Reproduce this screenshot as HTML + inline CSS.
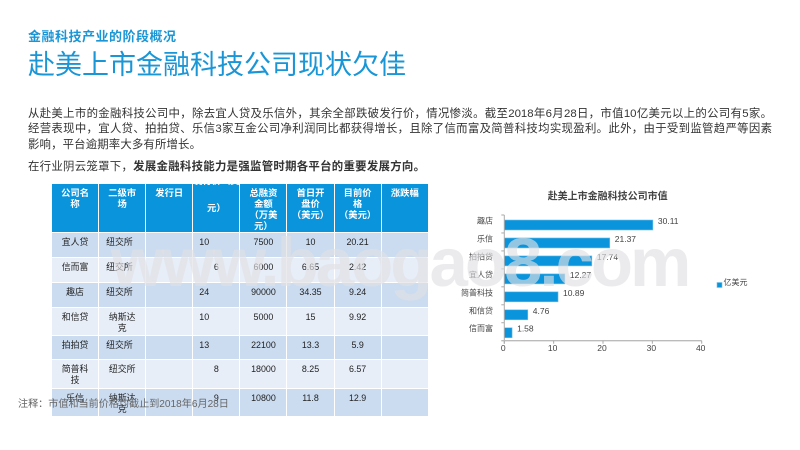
<!DOCTYPE html>
<html lang="zh-CN">
<head>
<meta charset="utf-8">
<title>赴美上市金融科技公司现状欠佳</title>
<style>
html,body{margin:0;padding:0;background:#fff;}
#page{position:relative;width:800px;height:450px;overflow:hidden;background:#fff;font-family:"Liberation Sans","Noto Sans CJK SC",sans-serif;}
.line{position:absolute;white-space:nowrap;color:#333;}
.just{text-align:justify;text-align-last:justify;white-space:normal;}
#deck-table{position:absolute;left:51px;top:183px;width:377px;border-collapse:collapse;table-layout:fixed;font-size:8.9px;line-height:11px;color:#222;}
#deck-table td,#deck-table th{border:1px solid #fff;padding:4px 2px 0;vertical-align:top;text-align:center;box-sizing:border-box;overflow:visible;font-weight:normal;}
#deck-table th{background:#0a94dc;color:#fff;font-weight:bold;font-size:9.3px;padding-top:3.5px;position:relative;}
#deck-table tr.odd td{background:#cbdcf1;}
#deck-table tr.even td{background:#e7eef8;}
#deck-table td.l{text-align:left;padding-left:7px;}
#deck-table td.p{text-align:left;padding-left:6px;}
#watermark{position:absolute;left:111px;top:223.6px;line-height:78px;font-size:69px;font-weight:bold;letter-spacing:-3px;color:rgba(225,225,228,.65);white-space:nowrap;z-index:5;font-family:"Liberation Sans",sans-serif;}
#chart{position:absolute;left:0;top:0;z-index:2;}
#chart text{font-family:"Liberation Sans","Noto Sans CJK SC",sans-serif;}
</style>
</head>
<body>
<div id="page">
  <div class="line" style="left:28px;top:29px;line-height:16px;font-size:13px;font-weight:bold;color:#1a96d6;letter-spacing:.5px;">金融科技产业的阶段概况</div>
  <div class="line" style="left:28px;top:47px;line-height:36px;font-size:27px;color:#1a96d6;">赴美上市金融科技公司现状欠佳</div>

  <div class="line just" style="left:28px;top:106px;width:744px;line-height:16px;font-size:11.4px;">从赴美上市的金融科技公司中，除去宜人贷及乐信外，其余全部跌破发行价，情况惨淡。截至2018年6月28日，市值10亿美元以上的公司有5家。</div>
  <div class="line just" style="left:28px;top:121px;width:744px;line-height:16px;font-size:11.4px;">经营表现中，宜人贷、拍拍贷、乐信3家互金公司净利润同比都获得增长，且除了信而富及简普科技均实现盈利。此外，由于受到监管趋严等因素</div>
  <div class="line just" style="left:28px;top:137px;width:173px;line-height:16px;font-size:11.4px;">影响，平台逾期率大多有所增长。</div>
  <div class="line just" style="left:28px;top:159px;width:397px;line-height:16px;font-size:11.4px;">在行业阴云笼罩下，<b>发展金融科技能力是强监管时期各平台的重要发展方向。</b></div>

  <table id="deck-table">
    <colgroup><col style="width:47.1px"><col style="width:47.1px"><col style="width:47.1px"><col style="width:47.1px"><col style="width:47.1px"><col style="width:47.1px"><col style="width:47.1px"><col style="width:47.3px"></colgroup>
    <tr style="height:49px">
      <th>公司名<br>称</th>
      <th>二级市<br>场</th>
      <th>发行日</th>
      <th><span style="position:absolute;left:-2px;right:-2px;top:-9px;line-height:13.5px;">发行价（美<br><br>元）</span></th>
      <th>总融资<br>金额<br>（万美<br>元）</th>
      <th>首日开<br>盘价<br>（美元）</th>
      <th>目前价<br>格<br>（美元）</th>
      <th>涨跌幅</th>
    </tr>
    <tr class="odd" style="height:24.7px">
      <td>宜人贷</td><td class="l">纽交所</td><td></td><td class="p">10</td><td>7500</td><td>10</td><td>20.21</td><td></td>
    </tr>
    <tr class="even" style="height:25.6px">
      <td>信而富</td><td class="l">纽交所</td><td></td><td>6</td><td>6000</td><td>6.65</td><td>2.42</td><td></td>
    </tr>
    <tr class="odd" style="height:24.4px">
      <td>趣店</td><td class="l">纽交所</td><td></td><td class="p">24</td><td>90000</td><td>34.35</td><td>9.24</td><td></td>
    </tr>
    <tr class="even" style="height:28.3px">
      <td>和信贷</td><td>纳斯达<br>克</td><td></td><td class="p">10</td><td>5000</td><td>15</td><td>9.92</td><td></td>
    </tr>
    <tr class="odd" style="height:24.3px">
      <td>拍拍贷</td><td class="l">纽交所</td><td></td><td class="p">13</td><td>22100</td><td>13.3</td><td>5.9</td><td></td>
    </tr>
    <tr class="even" style="height:29px">
      <td>简普科<br>技</td><td>纽交所</td><td></td><td>8</td><td>18000</td><td>8.25</td><td>6.57</td><td></td>
    </tr>
    <tr class="odd" style="height:27.4px">
      <td>乐信</td><td>纳斯达<br>克</td><td></td><td>9</td><td>10800</td><td>11.8</td><td>12.9</td><td></td>
    </tr>
  </table>

  <div class="line" style="left:18px;top:398px;line-height:14px;font-size:10.1px;color:#666;z-index:3;">注释：市值和当前价格均截止到2018年6月28日</div>

  <svg id="chart" width="800" height="450" viewBox="0 0 800 450" xmlns="http://www.w3.org/2000/svg"></svg>

  <div id="watermark">www.baogao8.com</div>
</div>

<script>
const categories = ["趣店", "乐信", "拍拍贷", "宜人贷", "简普科技", "和信贷", "信而富"];
const marketCapValues = [30.11, 21.37, 17.74, 12.27, 10.89, 4.76, 1.58];
const printedValues = ["30.11", "21.37", "17.74", "12.27", "10.89", "4.76", "1.58"];
const xTickLabels = ["0", "10", "20", "30", "40"];
const seriesName = "亿美元";
const chartTitle = "赴美上市金融科技公司市值";

const svgNS = "http://www.w3.org/2000/svg";
const svg = document.getElementById("chart");
const plot = { left: 504.3, right: 701.7, top: 215, bottom: 340.7 };
const xMax = Number(xTickLabels[xTickLabels.length - 1]);
function xScale(v) { return plot.left + (v / xMax) * (plot.right - plot.left); }
const bandHeight = (plot.bottom - plot.top) / categories.length;
function yBand(i) { return plot.top + bandHeight * i; }

function make(tag, attrs, text) {
  const el = document.createElementNS(svgNS, tag);
  for (const k in attrs) el.setAttribute(k, attrs[k]);
  if (text !== undefined) el.textContent = text;
  svg.appendChild(el);
  return el;
}

const titleEl = make("text", { x: 607.7, y: 199.5, "text-anchor": "middle", "font-size": 10, "font-weight": "bold", fill: "#444" }, chartTitle);



categories.forEach(function (name, i) {
  const top = yBand(i);
  const bar = make("rect", { x: xScale(0), y: top + 5, width: xScale(marketCapValues[i]) - xScale(0), height: 10, fill: "#0a94dc", stroke: "#7cc0e6", "stroke-width": 0.6 });
  
  

  const tick = make("line", { x1: plot.left - 3, x2: plot.left, y1: top, y2: top, stroke: "#aaa", "stroke-width": 1 });
  
  

  const cat = make("text", { x: 493, y: top + 8.5, "text-anchor": "end", "font-size": 8, fill: "#444" }, name);
  
  

  const val = make("text", { x: xScale(marketCapValues[i]) + 5, y: top + 9, "font-size": 8.5, fill: "#444" }, printedValues[i]);
  
  
});

const yAxis = make("line", { x1: plot.left, x2: plot.left, y1: plot.top, y2: plot.bottom + 3, stroke: "#aaa", "stroke-width": 1 });



const xAxis = make("line", { x1: plot.left - 3, x2: plot.right, y1: plot.bottom, y2: plot.bottom, stroke: "#bbb", "stroke-width": 1.4 });



xTickLabels.forEach(function (label) {
  const x = xScale(Number(label));
  const tick = make("line", { x1: x, x2: x, y1: plot.bottom, y2: plot.bottom + 3, stroke: "#aaa", "stroke-width": 1 });
  
  

  const txt = make("text", { x: x - 1, y: 351, "text-anchor": "middle", "font-size": 8.5, fill: "#444" }, label);
  
  
});

const legendSwatch = make("rect", { x: 717, y: 282.5, width: 5, height: 5, fill: "#0a94dc", stroke: "#7cc0e6", "stroke-width": 0.6 });



const legendLabel = make("text", { x: 723.5, y: 285, "font-size": 8, fill: "#444" }, seriesName);


</script>
</body>
</html>
